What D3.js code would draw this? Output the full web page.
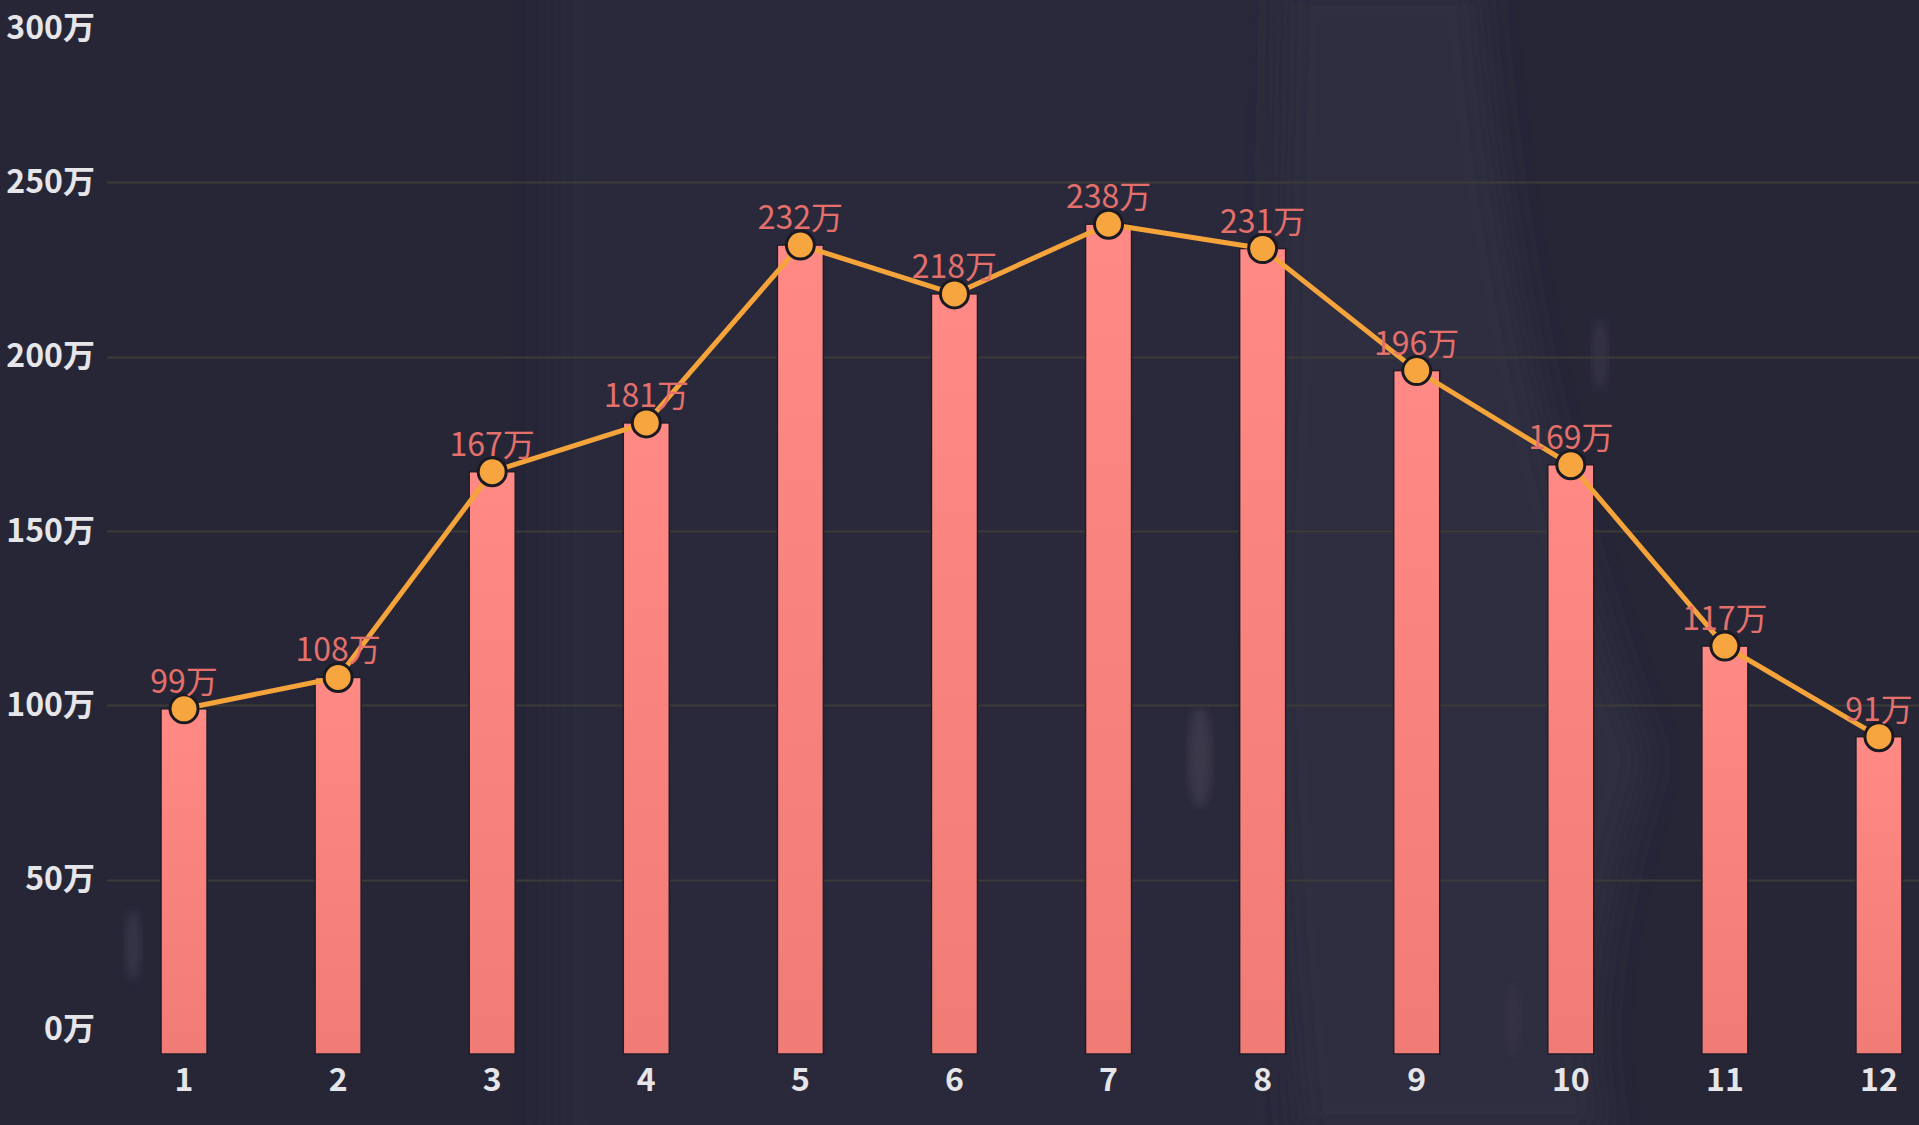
<!DOCTYPE html>
<html>
<head>
<meta charset="utf-8">
<script src="https://cdn.jsdelivr.net/npm/d3@7"></script>
<style>
  html, body { margin: 0; padding: 0; background: #272637; overflow: hidden; }
  svg { display: block; }
</style>
</head>
<body>
<div id="viz"></div>
<script>
const width = 1919;
const height = 1125;
const margin = {top: 8, right: -37, bottom: 71, left: 107};

// data
const months = ['1', '2', '3', '4', '5', '6', '7', '8', '9', '10', '11', '12'];
const values = [99, 108, 167, 181, 232, 218, 238, 231, 196, 169, 117, 91];
const yTicks = [0, 50, 100, 150, 200, 250, 300];

const font = '"Noto Sans CJK SC", "Noto Sans", sans-serif';

const svg = d3.select('#viz')
  .append('svg')
    .attr('width', width)
    .attr('height', height);

const defs = svg.append('defs');

const barGrad = defs.append('linearGradient')
  .attr('id', 'barGrad')
  .attr('x1', 0).attr('y1', 0).attr('x2', 0).attr('y2', 1);
barGrad.append('stop').attr('offset', '0%').attr('stop-color', '#ff8a85');
barGrad.append('stop').attr('offset', '100%').attr('stop-color', '#f17c76');

defs.append('filter')
  .attr('id', 'blur')
  .attr('x', '-50%').attr('y', '-50%').attr('width', '200%').attr('height', '200%')
  .append('feGaussianBlur').attr('stdDeviation', 18);

defs.append('filter')
  .attr('id', 'soft')
  .append('feGaussianBlur').attr('stdDeviation', 4);

// background texture
const bg = svg.append('g').attr('class', 'bg');
bg.append('rect')
  .attr('width', width).attr('height', height)
  .attr('fill', '#272637');
bg.append('rect')
  .attr('x', 550).attr('y', -40).attr('width', 740).attr('height', 1200)
  .attr('fill', '#2c2b3c').attr('opacity', 0.8).attr('filter', 'url(#blur)');
bg.append('path')
  .attr('d', 'M1285,-20 L1480,-20 Q1510,400 1650,760 Q1570,1000 1610,1140 L1300,1140 Q1255,700 1275,400 Z')
  .attr('fill', '#2f2e3f').attr('filter', 'url(#blur)');
bg.append('ellipse')
  .attr('cx', 1200).attr('cy', 757).attr('rx', 12).attr('ry', 50)
  .attr('fill', '#3a3949').attr('filter', 'url(#soft)');
bg.append('ellipse')
  .attr('cx', 133).attr('cy', 945).attr('rx', 8).attr('ry', 35)
  .attr('fill', '#353446').attr('filter', 'url(#soft)');
bg.append('ellipse')
  .attr('cx', 1600).attr('cy', 355).attr('rx', 8).attr('ry', 35)
  .attr('fill', '#343344').attr('filter', 'url(#soft)');
bg.append('ellipse')
  .attr('cx', 1513).attr('cy', 1020).attr('rx', 8).attr('ry', 35)
  .attr('fill', '#343344').attr('filter', 'url(#soft)');

// scales
const xScale = d3.scaleBand()
  .domain(months)
  .range([margin.left, width - margin.right]);

const yScale = d3.scaleLinear()
  .domain([0, 300])
  .range([height - margin.bottom, margin.top]);

const cx = d => xScale(d) + xScale.bandwidth() / 2;
const barWidth = 46;

// grid lines
svg.append('g')
    .attr('class', 'grid')
  .selectAll('line')
  .data(yTicks.filter(t => t > 0 && t < 300))
  .join('line')
    .attr('x1', margin.left)
    .attr('x2', width)
    .attr('y1', d => Math.round(yScale(d)) + 0.5)
    .attr('y2', d => Math.round(yScale(d)) + 0.5)
    .attr('stroke', '#3c3b38')
    .attr('stroke-width', 2);

// y axis labels
const yAxis = d3.axisLeft(yScale)
  .tickValues(yTicks)
  .tickFormat(d => d + '万')
  .tickSize(0)
  .tickPadding(12);

const yAxisGroup = svg.append('g')
    .attr('class', 'y-axis-group')
    .attr('transform', `translate(${margin.left}, 0)`)
  .call(yAxis);
yAxisGroup.select('.domain').remove();
yAxisGroup.selectAll('text')
  .attr('fill', '#e6e6ea')
  .style('font-family', font)
  .style('font-size', '32px')
  .style('font-weight', 600)
  .attr('dy', d => d === 300 ? '0.95em' : (d === 0 ? '-0.45em' : '0.32em'));

// x axis labels
const xAxis = d3.axisBottom(xScale)
  .tickSize(0)
  .tickPadding(14);

const xAxisGroup = svg.append('g')
    .attr('class', 'x-axis-group')
    .attr('transform', `translate(0, ${height - margin.bottom})`)
  .call(xAxis);
xAxisGroup.select('.domain').remove();
xAxisGroup.selectAll('text')
  .attr('fill', '#e6e6ea')
  .style('font-family', font)
  .style('font-size', '32px')
  .style('font-weight', 600);

// bars
svg.append('g')
    .attr('class', 'bars-group')
  .selectAll('rect')
  .data(months)
  .join('rect')
    .attr('x', (d, i) => cx(d) - barWidth / 2)
    .attr('y', (d, i) => yScale(values[i]))
    .attr('width', barWidth)
    .attr('height', (d, i) => yScale(0) - yScale(values[i]))
    .attr('fill', 'url(#barGrad)')
    .attr('stroke', '#1f1e2a')
    .attr('stroke-width', 1.5);

// line
const lineGenerator = d3.line()
  .x((d, i) => cx(months[i]))
  .y(d => yScale(d));

svg.append('path')
  .attr('d', lineGenerator(values))
  .attr('fill', 'none')
  .attr('stroke', '#f5a43c')
  .attr('stroke-width', 5)
  .attr('stroke-linejoin', 'round');

// points
svg.append('g')
    .attr('class', 'points-group')
  .selectAll('circle')
  .data(values)
  .join('circle')
    .attr('cx', (d, i) => cx(months[i]))
    .attr('cy', d => yScale(d))
    .attr('r', 14)
    .attr('fill', '#f7a53f')
    .attr('stroke', '#1b1a22')
    .attr('stroke-width', 3);

// value labels
svg.append('g')
    .attr('class', 'labels-group')
  .selectAll('text')
  .data(values)
  .join('text')
    .attr('x', (d, i) => cx(months[i]))
    .attr('y', d => yScale(d) - 16)
    .attr('text-anchor', 'middle')
    .attr('fill', '#e3706b')
    .style('font-family', font)
    .style('font-size', '32px')
    .text(d => d + '万');
</script>
</body>
</html>
